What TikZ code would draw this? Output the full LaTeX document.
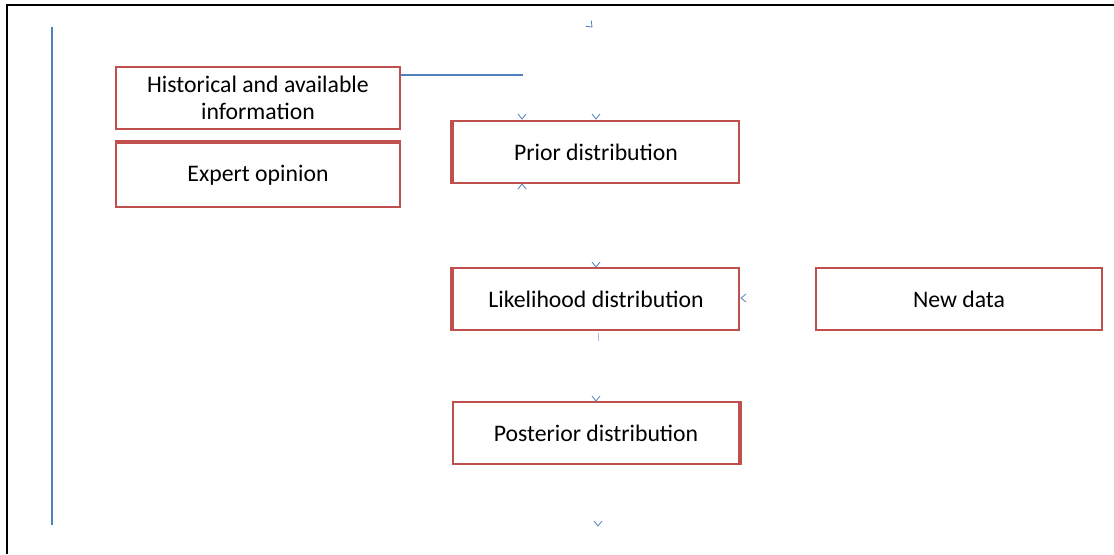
\documentclass[tikz,border=0pt]{standalone}
\usepackage{fontspec}
\setmainfont{Carlito}
\definecolor{boxred}{HTML}{C0504D}
\definecolor{lineblue}{HTML}{4F81BD}
\tikzset{
  box/.style={draw=boxred, line width=1.5pt, minimum width=213pt, minimum height=46.5pt, align=center, font=\fontsize{17.8}{20.3}\selectfont},
  heavyedge/.style={draw=boxred, line width=3pt},
  blueline/.style={draw=lineblue, line width=1.6pt},
  tipmark/.pic={\draw[lineblue, line width=0.6pt] (-4,-5) -- (0,0) -- (4,-5);}
}
\begin{document}
\begin{tikzpicture}[x=0.75pt,y=-0.75pt]
  \useasboundingbox (0,0) rectangle (1114,554);
  \draw[line width=2pt] (7,554) -- (7,5) -- (1114,5); %frame
  \draw[blueline] (52,27) -- (52,525); %left bar
  \node[box] (hist) at (258,98) {Historical and available\\information};
  \node[box, minimum height=48pt] (expert) at (258,175) {Expert opinion};
  \node[box, minimum width=214.5pt] (prior) at (596,152) {Prior distribution};
  \node[box, minimum width=214.5pt] (likeli) at (596,299) {Likelihood distribution};
  \node[box, minimum width=214.5pt] (newdata) at (959,299) {New data};
  \node[box, minimum width=214.5pt] (post) at (596,433) {Posterior distribution};
  \draw[heavyedge] (expert.north west) -- (expert.north east); %thick sides
  \draw[heavyedge] (prior.north west) -- (prior.south west);
  \draw[heavyedge] (likeli.north west) -- (likeli.south west);
  \draw[heavyedge] (post.north east) -- (post.south east);
  \coordinate (hline) at (523,75);
  \draw[blueline] (hist.north east |- hline) -- (hline);
  % stray arrow tips
  \pic[rotate=45] at (592,27) {tipmark};
  \pic at (522,119) {tipmark};
  \pic at (596,119) {tipmark};
  \pic[rotate=180] at (522,184) {tipmark};
  \pic at (596,267) {tipmark};
  \pic[rotate=-90] at (741,298) {tipmark};
  \draw[lineblue!50, line width=0.6pt] (598,333) -- (598,341);
  \pic at (596,401) {tipmark};
  \pic at (598,526) {tipmark};
\end{tikzpicture}
\end{document}
